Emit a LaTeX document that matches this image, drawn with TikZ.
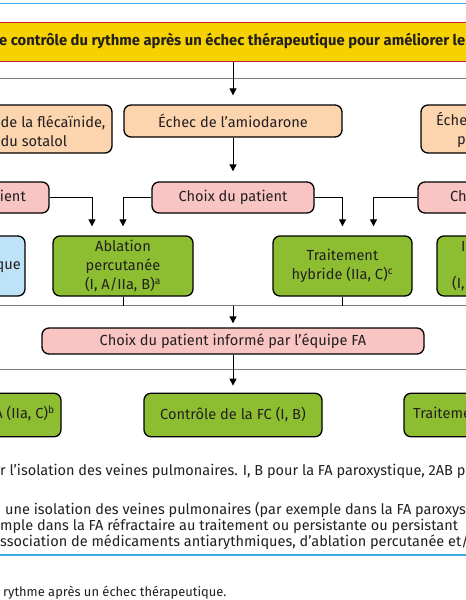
\documentclass[tikz,border=0pt]{standalone}
\usepackage{fontspec}
\setmainfont{Fira Sans}
\usetikzlibrary{arrows.meta,calc}
\definecolor{bannery}{HTML}{F5D200}
\definecolor{bannerr}{HTML}{C41E3A}
\definecolor{peach}{HTML}{FCD4AE}
\definecolor{pinkc}{HTML}{F8C5C2}
\definecolor{greenc}{HTML}{8DBE31}
\definecolor{bluec}{HTML}{BEE3F8}
\definecolor{blueline}{HTML}{3BAAE0}
\definecolor{greyline}{HTML}{7A7A7A}
\definecolor{txt}{HTML}{231F20}
\begin{document}
\begin{tikzpicture}[x=1pt,y=-1pt,
  font=\fontsize{14.6}{19}\selectfont, text=txt,
  box/.style={draw=black, line width=1.3pt, rounded corners=7pt, inner sep=0pt, align=center},
  peachbox/.style={box, fill=peach, minimum height=48pt},
  pinkbox/.style={box, fill=pinkc, minimum height=31pt},
  greenbox/.style={box, fill=greenc},
  bluebox/.style={box, fill=bluec},
  banner/.style={draw=bannerr, fill=bannery, line width=1pt, minimum width=520pt, minimum height=39pt, inner sep=0pt},
  lbl/.style={inner sep=0pt, text height=10pt, text depth=2.8pt},
  fn/.style={lbl, anchor=west, font=\fontsize{14.5}{16}\selectfont},
  arr/.style={-{Triangle[width=7pt,length=7pt]}, line width=1pt, draw=black},
  conn/.style={line width=1pt, draw=black},
  gline/.style={line width=1pt, draw=greyline},
  bline/.style={line width=1.8pt, draw=blueline}]
\useasboundingbox (0,0) rectangle (466,600);
\clip (0,0) rectangle (466,600);
\fill[white] (0,0) rectangle (466,600);

% blue top line
\draw[bline] (-5,3.5) -- (471,3.5);

% banner
\node[banner] (ban) at (233,42) {};
\node[lbl, anchor=west, font=\bfseries\fontsize{14.8}{16}\selectfont] (bant) at (-1,42) {e contrôle du rythme après un échec thérapeutique pour améliorer le};

% grey divider lines
\coordinate (j) at (233,305.5);
\draw[gline] (-5,78) -- (471,78);
\draw[gline] (-5,305.5) -- (471,305.5);
\draw[gline] (-5,369) -- (471,369);

% row 2
\node[peachbox, minimum width=150pt] (pL) at (37,129) {};
\node[anchor=west, align=left, inner sep=0pt] (pLt) at (0.5,131.5) {de la flécaïnide,\\du sotalol};
\node[peachbox, minimum width=218pt, minimum height=32pt] (pM) at (233,121) {Échec de l’amiodarone};
\node[peachbox, minimum width=150pt] (pR) at (496,129) {};
\node[lbl, anchor=west] (pRt1) at (436,122) {Éche};
\node[lbl, anchor=west] (pRt2) at (457,141) {p};

% row 3
\node[pinkbox, minimum width=150pt] (cL) at (-26,197.5) {};
\node[lbl, anchor=east] (cLt) at (26,197.5) {ient};
\node[pinkbox, minimum width=162pt] (cM) at (233,197.5) {Choix du patient};
\node[pinkbox, minimum width=150pt] (cR) at (493,197.5) {};
\node[lbl, anchor=west] (cRt) at (450,197.5) {Ch};

% row 4
\node[bluebox, minimum width=140pt, minimum height=60pt] (bL) at (-45,266) {};
\node[lbl, anchor=east] (bLt) at (21,266) {que};
\node[greenbox, minimum width=140pt, minimum height=60pt] (aL) at (123,266) {Ablation\\percutanée\\(I, A/IIa, B)\textsuperscript{a}};
\node[greenbox, minimum width=139pt, minimum height=60pt] (tH) at (342.5,266) {Traitement\\hybride (IIa, C)\textsuperscript{c}};
\node[greenbox, minimum width=140pt, minimum height=60pt] (gR) at (507,266) {};
\node[lbl, anchor=west] (gRt1) at (461,248) {I};
\node[lbl, anchor=west] (gRt2) at (452,285) {(I,};

% informed choice
\node[pinkbox, minimum width=382pt, minimum height=26pt] (cI) at (233,341) {Choix du patient informé par l’équipe FA};

% row 5
\node[greenbox, minimum width=140pt, minimum height=43.5pt] (gL5) at (-9,415) {};
\node[lbl, anchor=east] (gL5t) at (55,415) {A (IIa, C)\textsuperscript{b}};
\node[greenbox, minimum width=178pt, minimum height=43.5pt] (mC) at (233,415) {Contrôle de la FC (I, B)};
\node[greenbox, minimum width=140pt, minimum height=43.5pt] (gR5) at (474,415) {};
\node[lbl, anchor=west] (gR5t) at (413,415) {Traiteme};

% connectors
\draw[arr, shorten >=9pt] (ban.south) -- (pM.north);
\draw[arr, shorten >=10pt] (pM.south) -- (cM.north);
\draw[arr, shorten >=9pt] (cM.west) -| (aL.north);
\draw[arr, shorten >=9pt] (cL.east) -| ([xshift=-31pt]aL.north);
\draw[arr, shorten >=9pt] (cM.east) -| (tH.north);
\draw[arr, shorten >=9pt] (cR.west) -| ([xshift=31pt]tH.north);
\draw[conn] (aL.south) -- (aL.south |- j);
\draw[conn] (tH.south) -- (tH.south |- j);
\draw[arr, shorten >=4pt] (j) -- (cI.north);
\draw[arr, shorten >=7pt] (cI.south) -- (mC.north);

% footnotes
\node[fn] (f1) at (0,472) {r l’isolation des veines pulmonaires. I, B pour la FA paroxystique, 2AB p};
\node[fn] (f2) at (5,511) {une isolation des veines pulmonaires (par exemple dans la FA paroxys};
\node[fn] (f3) at (0,527) {mple dans la FA réfractaire au traitement ou persistante ou persistant};
\node[fn] (f4) at (0,543) {ssociation de médicaments antiarythmiques, d’ablation percutanée et/};
\draw[bline] (-5,555) -- (471,555);
\node[lbl, anchor=west, font=\fontsize{12.9}{14}\selectfont] (cap) at (3,593) {rythme après un échec thérapeutique.};
\end{tikzpicture}
\end{document}
